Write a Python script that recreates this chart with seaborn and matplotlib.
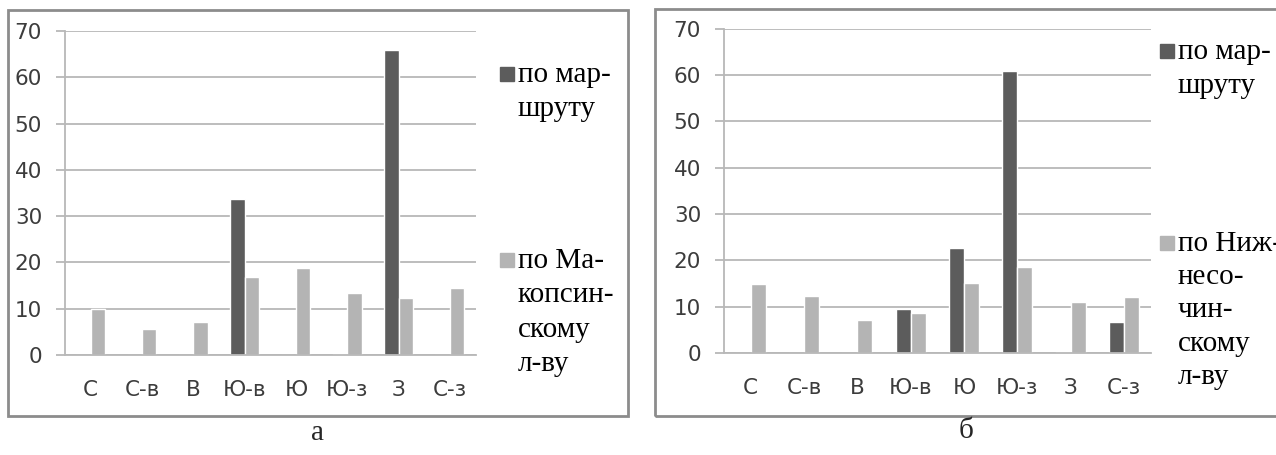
import pandas as pd
import matplotlib.pyplot as plt
import seaborn as sns
import numpy as np
from matplotlib.patches import Rectangle

# Data (values in %)
directions = ['С', 'С-в', 'В', 'Ю-в', 'Ю', 'Ю-з', 'З', 'С-з']
route_a = [0, 0, 0, 33.6, 0, 0.3, 65.8, 0]
makopsin_a = [10.0, 5.7, 7.2, 16.8, 18.7, 13.4, 12.3, 14.5]
route_b = [0, 0, 0, 9.4, 22.6, 60.9, 0.2, 6.6]
nizhnesochin_b = [14.9, 12.3, 7.1, 8.6, 15.2, 18.6, 10.9, 12.0]

route_label = 'по мар-\nшруту'
makopsin_label = 'по Ма-\nкопсин-\nскому\nл-ву'
nizhnesochin_label = 'по Ниж-\nнесо-\nчин-\nскому\nл-ву'
panel_letters = ['а', 'б']

DARK = '#5c5c5c'
LIGHT = '#b4b4b4'
GRID = '#b8b8b8'
TICK_TXT = '#3c3c3c'

sns.set_theme(style='white')
plt.rcParams['font.family'] = ['DejaVu Sans']

fig = plt.figure(figsize=(12.76, 4.55), dpi=100)
W, H = 1276, 455


def px_axes(x0, x1, y_top, y_zero):
    return fig.add_axes([x0 / W, (H - y_zero) / H, (x1 - x0) / W, (y_zero - y_top) / H])


def draw_panel(ax, route, other):
    df = pd.DataFrame({
        'dir': directions * 2,
        'val': route + other,
        'series': ['route'] * len(directions) + ['other'] * len(directions),
    })
    sns.barplot(data=df, x='dir', y='val', hue='series', hue_order=['route', 'other'],
                palette=[DARK, LIGHT], width=0.56, saturation=1, errorbar=None,
                legend=False, ax=ax)
    ax.set_xlim(-0.5, len(directions) - 0.5)
    ax.set_ylim(0, 70)
    ax.set_yticks(range(0, 71, 10))
    ax.set_xticks(range(len(directions)))
    ax.set_xticklabels(directions)
    ax.set_xticks(np.arange(-0.5, len(directions), 1), minor=True)
    ax.set_xlabel('')
    ax.set_ylabel('')
    ax.yaxis.grid(True, color=GRID, lw=1.3)
    ax.set_axisbelow(True)
    for s in ['top', 'right']:
        ax.spines[s].set_visible(False)
    for s in ['left', 'bottom']:
        ax.spines[s].set_color(GRID)
        ax.spines[s].set_linewidth(1.3)
    ax.tick_params(axis='x', which='major', length=0, pad=18, labelsize=15.5, labelcolor=TICK_TXT)
    ax.tick_params(axis='x', which='minor', length=6, width=1.3, color=GRID)
    ax.tick_params(axis='y', length=6.5, width=1.3, color=GRID, pad=10,
                   labelsize=15.5, labelcolor=TICK_TXT, left=True)


def legend_entry(x, y, color, text, spacing=1.42):
    # square + serif multi-line label (pixel coords from top-left)
    fig.patches.append(Rectangle((x / W, (H - y - 14) / H), 14 / W, 14 / H,
                                 transform=fig.transFigure, color=color))
    fig.text((x + 18) / W, (H - y + 5) / H, text, ha='left', va='top',
             fontsize=21, family='Liberation Serif', linespacing=spacing, color='black')


def border(x0, x1, y0, y1):
    fig.patches.append(Rectangle((x0 / W, (H - y1) / H), (x1 - x0) / W, (y1 - y0) / H,
                                 transform=fig.transFigure, fill=False,
                                 edgecolor='#8c8c8c', lw=2))


# panel a
border(8, 628, 10, 416)
ax_a = px_axes(65, 475.5, 31, 355)
draw_panel(ax_a, route_a, makopsin_a)
legend_entry(500, 67, DARK, route_label)
legend_entry(500, 253, LIGHT, makopsin_label)

# panel b
border(655, 1300, 9, 416)
ax_b = px_axes(724, 1150.6, 28.5, 353)
draw_panel(ax_b, route_b, nizhnesochin_b)
legend_entry(1160, 44, DARK, route_label)
legend_entry(1160, 236, LIGHT, nizhnesochin_label, spacing=1.36)

fig.text(318 / W, (H - 433) / H, panel_letters[0], ha='center', va='center',
         fontsize=21, family='Liberation Serif')
fig.text(966 / W, (H - 431) / H, panel_letters[1], ha='center', va='center',
         fontsize=21, family='Liberation Serif')

fig.savefig('out.png', dpi=100)
